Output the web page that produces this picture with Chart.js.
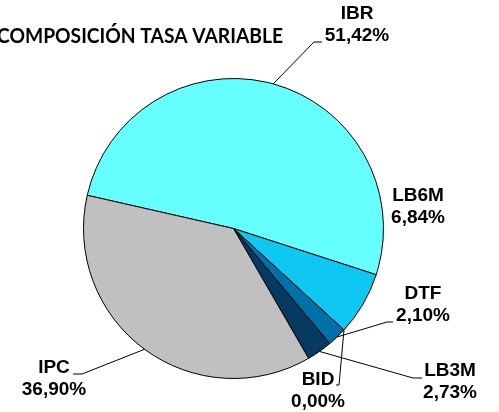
<!DOCTYPE html>
<html lang="es">
<head>
  <meta charset="UTF-8" />
  <title>Composición tasa variable</title>
  <script src="https://cdn.jsdelivr.net/npm/chart.js"></script>
  <style>
    body {
      margin: 0;
      background: #ffffff;
    }
    #wrap {
      width: 499px;
      height: 412px;
    }
  </style>
</head>
<body>
  <div id="wrap">
    <canvas id="pieChart" width="499" height="412"></canvas>
  </div>
  <script>
    const chartTitle = 'COMPOSICIÓN TASA VARIABLE';
    const categories = ['IBR', 'LB6M', 'BID', 'DTF', 'LB3M', 'IPC'];
    const shares = [51.42, 6.84, 0.00, 2.10, 2.73, 36.90];
    const sliceColors = ['#66FFFF', '#0FC8F2', '#0099CC', '#0070A8', '#063A60', '#C0C0C0'];

    // where each label sits, and the bend of its leader line (null = no line)
    const labelSpots = [
      { x: 357, y: 14, bend: [314, 42], end: [322, 42] },
      { x: 418, y: 196, bend: null },
      { x: 318, y: 380, bend: [339, 385], end: [336, 385] },
      { x: 423, y: 294, bend: [387, 322], end: [393, 322] },
      { x: 450, y: 371, bend: [413, 378], end: [422, 378] },
      { x: 54, y: 368, bend: [82, 374], end: [73, 374] }
    ];

    const pct = v => v.toFixed(2).replace('.', ',') + '%';

    const labelPlugin = {
      id: 'labelPlugin',
      afterDraw(chart) {
        const ctx = chart.ctx;
        const arcs = chart.getDatasetMeta(0).data;
        ctx.save();

        // title, clipped at the left edge like the original
        ctx.fillStyle = '#000';
        ctx.font = 'bold 21px Lato';
        ctx.textAlign = 'left';
        ctx.textBaseline = 'middle';
        ctx.fillText(chartTitle, -3, 36, 286);

        ctx.strokeStyle = '#000';
        ctx.lineWidth = 1;
        arcs.forEach((arc, i) => {
          const spot = labelSpots[i];
          const p = arc.getProps(['x', 'y', 'startAngle', 'endAngle', 'outerRadius'], true);
          const mid = (p.startAngle + p.endAngle) / 2;
          if (spot.bend) {
            ctx.beginPath();
            ctx.moveTo(p.x + Math.cos(mid) * p.outerRadius, p.y + Math.sin(mid) * p.outerRadius);
            ctx.lineTo(spot.bend[0], spot.bend[1]);
            ctx.lineTo(spot.end[0], spot.end[1]);
            ctx.stroke();
          }
          ctx.font = 'bold 19px Arial, "Liberation Sans", sans-serif';
          ctx.textAlign = 'center';
          ctx.fillText(categories[i], spot.x, spot.y);
          ctx.fillText(pct(shares[i]), spot.x, spot.y + 22);
        });
        ctx.restore();
      }
    };

    new Chart(document.getElementById('pieChart'), {
      type: 'pie',
      data: {
        labels: categories,
        datasets: [{
          data: shares,
          backgroundColor: sliceColors,
          borderColor: '#000000',
          borderWidth: 1
        }]
      },
      options: {
        responsive: false,
        animation: false,
        rotation: -77.2,
        layout: { padding: { left: 83, right: 115, top: 78, bottom: 33 } },
        plugins: {
          legend: { display: false },
          tooltip: { enabled: false }
        }
      },
      plugins: [labelPlugin]
    });
  </script>
</body>
</html>
